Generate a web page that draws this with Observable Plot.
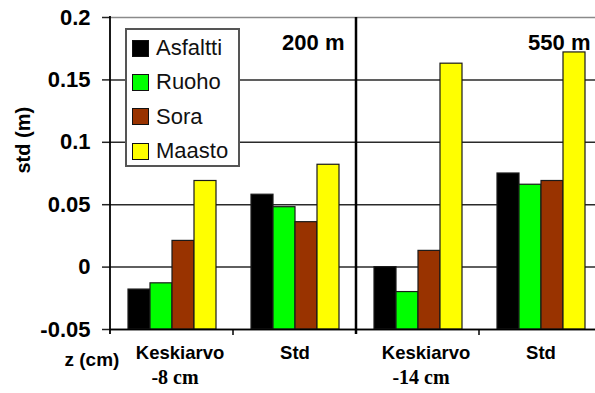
<!DOCTYPE html>
<html>
<head>
<meta charset="utf-8">
<script src="https://cdn.jsdelivr.net/npm/d3@7"></script>
<script src="https://cdn.jsdelivr.net/npm/@observablehq/plot@0.6"></script>
<style>
  body { margin: 0; background: #fff; }
  #wrap { position: relative; width: 595px; height: 393px; overflow: hidden; }
  .legend {
    position: absolute; left: 125px; top: 28px; width: 111px; height: 135px;
    border: 2px solid #555; background: #fff;
    font-family: "Liberation Sans", Arial, sans-serif; font-size: 22px; color: #111;
  }
  .legend .row { position: absolute; left: 5px; height: 26px; display: flex; align-items: center; }
  .legend .sw { width: 15px; height: 15px; border: 1px solid #111; margin-right: 7px; }
</style>
</head>
<body>
<div id="wrap"></div>
<script>
// Categories: two statistics at two distances
const groups = ["K200", "S200", "K550", "S550"];
const topLabels = ["Keskiarvo", "Std", "Keskiarvo", "Std"];
const depthLabels = ["-8 cm", "", "-14 cm", ""];
const distanceLabels = ["200 m", "550 m"];

// Surface types
const series = ["Asfaltti", "Ruoho", "Sora", "Maasto"];
const colors = ["#000000", "#00ff00", "#993300", "#ffff00"];

// Values (m) per surface, in group order
const asfaltti = [-0.018, 0.058, 0.000, 0.075];
const ruoho    = [-0.013, 0.048, -0.020, 0.066];
const sora     = [0.021, 0.036, 0.013, 0.069];
const maasto   = [0.069, 0.082, 0.163, 0.172];

const yTicks = [-0.05, 0, 0.05, 0.1, 0.15, 0.2];
const yMin = -0.05, yMax = 0.2;

const valuesBySeries = [asfaltti, ruoho, sora, maasto];
const rows = groups.flatMap((g, i) =>
  series.map((s, j) => ({group: g, series: s, value: valuesBySeries[j][i]}))
);
const labelRows = groups.map((g, i) => ({g, top: topLabels[i], depth: depthLabels[i]}));
const innerTicks = yTicks.filter(v => v > yMin && v < yMax);

const chart = Plot.plot({
  width: 595,
  height: 393,
  marginLeft: 108,
  marginRight: -8,
  marginTop: 17,
  marginBottom: 64,
  style: {fontFamily: '"Liberation Sans", Arial, sans-serif', background: "#fff", color: "#000"},
  fx: {domain: groups, padding: 0, axis: null},
  x: {domain: series, paddingInner: 0, paddingOuter: 0.72, axis: null},
  y: {domain: [yMin, yMax], axis: null},
  color: {domain: series, range: colors},
  marks: [
    // horizontal grid
    Plot.ruleY(yTicks, {
      y: d => d,
      stroke: d => d === yMax ? "#8a8a8a" : d === yMin ? "#000000" : "#2a2a2a",
      strokeWidth: 1.5
    }),
    Plot.barY(rows, {
      fx: "group", x: "series", y1: () => yMin, y2: "value",
      fill: "series", stroke: "#1a1a1a", strokeWidth: 1.2
    }),
    Plot.ruleY([yMin], {stroke: "#000", strokeWidth: 1.6}),
    Plot.axisY(yTicks, {
      label: null, tickSize: 8, tickPadding: 12, fontSize: 22, fontWeight: "bold",
      tickFormat: d => String(d), stroke: "#222", strokeWidth: 1.5
    }),
    // distance labels in the upper right of each panel
    Plot.text(distanceLabels.map((t, i) => ({g: groups[2 * i + 1], t})), {
      fx: "g", text: "t", frameAnchor: "top-right", textAnchor: "end",
      dx: -12, dy: 17, fontSize: 22, fontWeight: "bold"
    }),
    // category labels
    Plot.text(labelRows.filter(d => d.top === "Keskiarvo"), {
      fx: "g", text: "top", frameAnchor: "bottom", dx: 8, dy: 29, fontSize: 18.5, fontWeight: "bold"
    }),
    Plot.text(labelRows.filter(d => d.top !== "Keskiarvo"), {
      fx: "g", text: "top", frameAnchor: "bottom", dx: 0, dy: 29, fontSize: 18.5, fontWeight: "bold"
    }),
    Plot.text(labelRows.filter(d => d.depth), {
      fx: "g", text: "depth", frameAnchor: "bottom", dx: 3, dy: 54,
      fontSize: 20, fontWeight: "bold", fontFamily: '"Liberation Serif", "Times New Roman", serif'
    }),
    // axis titles
    Plot.text([{g: groups[0], t: "std (m)"}], {
      fx: "g", text: "t", frameAnchor: "left", dx: -87, rotate: -90, fontSize: 20, fontWeight: "bold"
    }),
    Plot.text([{g: groups[0], t: "z (cm)"}], {
      fx: "g", text: "t", frameAnchor: "bottom-left", dx: -46, dy: 36, fontSize: 19, fontWeight: "bold"
    })
  ]
});

// Axis line, panel separator and category ticks along the base
const fx = chart.scale("fx");
const y = chart.scale("y");
const edges = groups.map(g => fx.apply(g));
const svg = d3.select(chart);
const deco = svg.append("g").attr("stroke", "#000");
const y0 = y.apply(yMin), y1 = y.apply(yMax);
deco.append("line").attr("x1", edges[0]).attr("x2", edges[0])
  .attr("y1", y1 - 1).attr("y2", y0 + 5).attr("stroke-width", 1.8);
deco.append("line").attr("x1", edges[2]).attr("x2", edges[2])
  .attr("y1", y1).attr("y2", y0 + 5).attr("stroke-width", 2.5);
[edges[1], edges[3]].forEach(x => {
  deco.append("line").attr("x1", x).attr("x2", x)
    .attr("y1", y0).attr("y2", y0 + 6).attr("stroke-width", 1.5);
});

const wrap = document.getElementById("wrap");
wrap.appendChild(chart);

// Legend box
const legend = document.createElement("div");
legend.className = "legend";
const rowCenters = [18, 52, 86.5, 121];
series.forEach((s, i) => {
  const row = document.createElement("div");
  row.className = "row";
  row.style.top = (rowCenters[i] - 13) + "px";
  const sw = document.createElement("span");
  sw.className = "sw";
  sw.style.background = colors[i];
  const label = document.createElement("span");
  label.textContent = s;
  row.appendChild(sw);
  row.appendChild(label);
  legend.appendChild(row);
});
wrap.appendChild(legend);
</script>
</body>
</html>
